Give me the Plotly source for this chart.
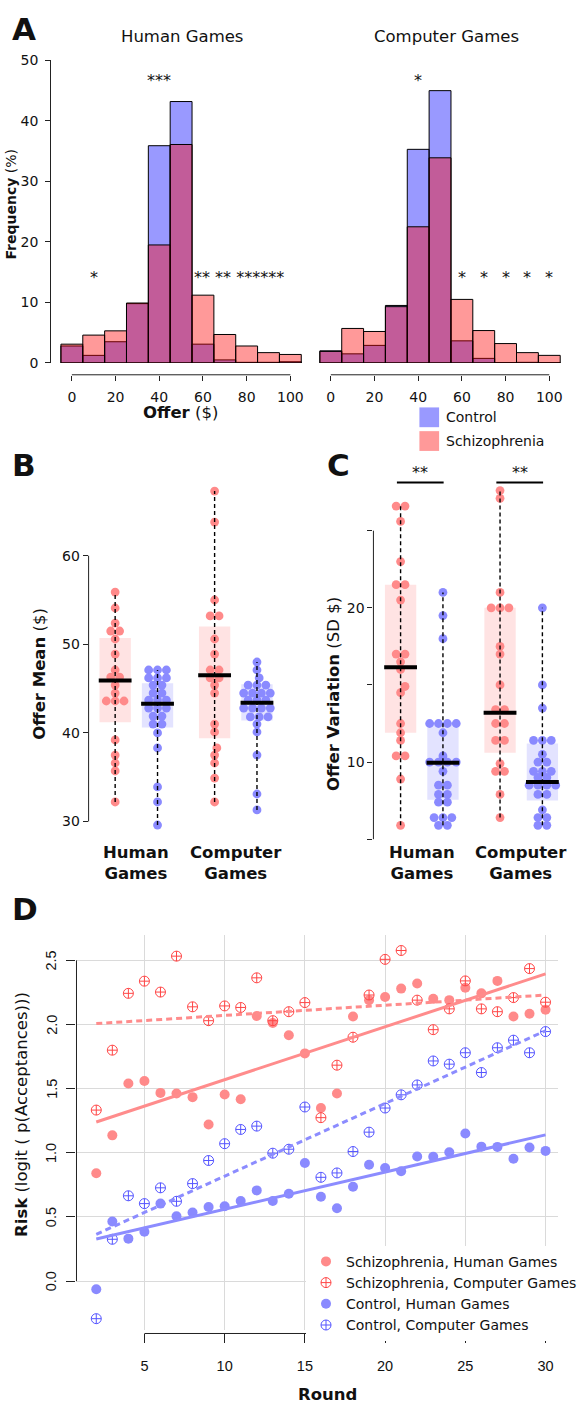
import numpy as np
import plotly.graph_objects as go

W, H = 582, 1411
def px(x): return x / W
def py(y): return 1 - y / H

# ---------------- Panel A: offer histograms (% of offers per $10 bin)
bins = [0, 10, 20, 30, 40, 50, 60, 70, 80, 90, 100]
hum_ctl_freq = [2.8, 1.25, 3.5, 9.8, 35.9, 43.2, 3.1, 0.5, 0.1, 0.1, 0.2]
hum_scz_freq = [3.1, 4.6, 5.3, 9.9, 19.5, 36.1, 11.2, 4.7, 2.8, 1.7, 1.4]
cmp_ctl_freq = [2.0, 1.5, 2.9, 9.5, 35.3, 45.0, 3.65, 0.75, 0.05, 0.1, 0.05]
cmp_scz_freq = [1.9, 5.7, 5.2, 9.3, 22.5, 33.9, 10.5, 5.35, 3.2, 1.7, 1.25]
sig_human = [(10, 14.2, "*"), (40, 46.7, "***"), (76.5, 14.2, "** ** ******")]
sig_computer = [(40, 46.7, "*"), (60, 14.2, "*"), (70, 14.2, "*"), (80, 14.2, "*"),
                (90, 14.2, "*"), (100, 14.2, "*")]

# ---------------- Panel B: offer mean ($)
b_hum_scz = [55.9, 54.1, 52.4, 51.5, 51.5, 50.6, 48.9, 47.1, 46.3, 46.3, 45.4, 44.5,
             43.6, 43.6, 43.6, 39.2, 37.5, 36.6, 35.7, 32.2]
b_hum_ctl = [47.1, 47.1, 47.1, 46.2, 46.2, 46.2, 45.4, 45.4, 44.5, 44.5, 43.7, 43.7, 43.7,
             42.8, 42.8, 42.8, 41.9, 41.9, 41.0, 41.0, 40.0, 38.3, 33.9, 32.2, 29.6]
b_cmp_scz = [67.3, 63.8, 55.0, 53.2, 53.2, 50.6, 48.9, 47.1, 47.1, 46.2, 46.2, 45.4,
             44.5, 41.0, 40.1, 38.3, 37.5, 36.6, 34.9, 32.2]
b_cmp_ctl = [48.0, 47.1, 46.2, 45.4, 45.4, 45.4, 44.5, 44.5, 44.5, 44.5, 43.7, 43.7, 43.7,
             42.8, 42.8, 42.8, 42.8, 41.8, 41.8, 41.8, 41.0, 40.1, 37.5, 33.1, 31.3]
b_q1 = [41.2, 40.6, 39.4, 41.4]
b_q3 = [50.7, 45.6, 52.0, 45.5]
b_med = [45.9, 43.3, 46.5, 43.4]

# ---------------- Panel C: offer variation (SD $)
c_hum_scz = [26.6, 26.6, 25.6, 23.0, 21.5, 21.5, 20.5, 17.0, 17.0, 16.5, 16.0, 14.9,
             14.5, 12.5, 11.9, 11.4, 10.4, 10.4, 8.9, 5.9]
c_hum_ctl = [21.0, 19.5, 18.0, 12.5, 12.5, 12.5, 12.5, 11.9, 10.4, 10.0, 10.0, 10.0, 10.0,
             9.4, 8.5, 8.5, 7.9, 7.9, 7.4, 7.4, 6.4, 6.4, 6.4, 5.9, 5.9]
c_cmp_scz = [27.6, 27.1, 21.0, 20.0, 20.0, 20.0, 17.5, 17.0, 15.0, 13.4, 13.4, 12.5,
             12.5, 11.4, 11.4, 9.9, 9.4, 9.4, 7.9, 6.4]
c_cmp_ctl = [20.0, 15.0, 13.5, 11.4, 11.4, 11.4, 10.5, 10.0, 10.0, 9.4, 9.4, 9.4, 9.0,
             9.0, 8.5, 8.5, 8.5, 8.5, 7.9, 7.9, 6.9, 6.4, 6.4, 5.9, 5.9]
c_q1 = [11.9, 7.55, 10.6, 7.5]
c_q3 = [21.5, 12.6, 20.0, 11.2]
c_med = [16.15, 9.95, 13.2, 8.7]
c_ticks = [5, 10, 15, 20, 25]
c_ticktext = ["", "10", "", "20", ""]

group_labels = ["<b>Human<br>Games</b>", "<b>Computer<br>Games</b>"]

# ---------------- Panel D: risk by round
rounds = list(range(2, 31))
d_scz_hum = [0.84, 1.136, 1.54, 1.56, 1.467, 1.462, 1.434, 1.22, 1.454, 1.418, 2.066,
             2.012, 1.917, 1.775, 1.349, 1.462, 2.063, 2.19, 2.215, 2.28, 2.32, 2.20,
             2.19, 2.287, 2.243, 2.34, 2.063, 2.084, 2.115]
d_scz_cmp = [1.333, 1.80, 2.243, 2.338, 2.253, 2.533, 2.138, 2.03, 2.145, 2.133, 2.364,
             2.03, 2.10, 2.171, 1.274, 1.683, 1.901, 2.23, 2.508, 2.577, 2.19, 1.96,
             2.122, 2.34, 2.122, 2.10, 2.21, 2.436, 2.174]
d_ctl_hum = [-0.064, 0.465, 0.331, 0.385, 0.604, 0.506, 0.534, 0.578, 0.583, 0.624,
             0.707, 0.624, 0.681, 0.92, 0.658, 0.568, 0.735, 0.907, 0.881, 0.856, 0.971,
             0.969, 1.005, 1.151, 1.048, 1.046, 0.953, 1.041, 1.015]
d_ctl_cmp = [-0.293, 0.326, 0.665, 0.604, 0.727, 0.622, 0.76, 0.94, 1.071, 1.182, 1.208,
             0.997, 1.028, 1.357, 0.809, 0.843, 1.01, 1.161, 1.349, 1.452, 1.529, 1.716,
             1.691, 1.78, 1.626, 1.819, 1.878, 1.78, 1.945]
d_yticks = [0.0, 0.5, 1.0, 1.5, 2.0, 2.5]

RED_PT = "rgb(255,138,138)"
BLUE_PT = "rgb(138,138,255)"
RED_BOX = "rgb(255,227,227)"
BLUE_BOX = "rgb(227,227,255)"
AXC = "#222222"
FONT = "DejaVu Sans"

fig = go.Figure()

# ---------------- A traces
for xa, ya, ctl, scz in [("x", "y", hum_ctl_freq, hum_scz_freq),
                         ("x2", "y2", cmp_ctl_freq, cmp_scz_freq)]:
    fig.add_trace(go.Bar(x=bins, y=ctl, width=10, xaxis=xa, yaxis=ya, showlegend=False,
                         marker=dict(color="rgba(0,0,255,0.4)", line=dict(color="black", width=1))))
    fig.add_trace(go.Bar(x=bins, y=scz, width=10, xaxis=xa, yaxis=ya, showlegend=False,
                         marker=dict(color="rgba(255,0,0,0.4)", line=dict(color="black", width=1))))


def swarm(values, ypu, d=9.0, gap=0.8):
    """Beeswarm offsets (pixels) for values; rows of equal values are centred."""
    vals = np.asarray(values, float)
    uniq = sorted(set(np.round(vals, 3)))
    placed = []
    offs = np.zeros(len(vals))
    shifts = sorted([k * d / 4 for k in range(-24, 25)], key=lambda s: (abs(s), -s))
    for u in uniq:
        idx = [i for i, v in enumerate(vals) if abs(v - u) < 1e-6]
        n = len(idx)
        yp = u * ypu
        base = [(i - (n - 1) / 2) * d for i in range(n)]
        for s in shifts:
            xs = [b + s for b in base]
            ok = all((x - qx) ** 2 + (yp - qy) ** 2 >= (gap * d) ** 2
                     for x in xs for (qx, qy) in placed)
            if ok:
                break
        for i, x in zip(idx, xs):
            offs[i] = x
            placed.append((x, yp))
    return offs


def dot_panel(xa, ya, series, q1, q3, med, ypu, ppu):
    cols = [(RED_PT, RED_BOX), (BLUE_PT, BLUE_BOX)] * 2
    centers = [-0.213, 0.213, 0.787, 1.213]
    for k in range(4):
        fig.add_trace(go.Bar(x=[centers[k]], y=[q3[k] - q1[k]], base=[q1[k]], width=0.315,
                             xaxis=xa, yaxis=ya, showlegend=False,
                             marker=dict(color=cols[k][1], line=dict(width=0))))
    for k in range(4):
        v = series[k]
        off = swarm(v, ypu) / ppu
        fig.add_trace(go.Scatter(x=centers[k] + off, y=v, mode="markers", xaxis=xa, yaxis=ya,
                                 showlegend=False, marker=dict(size=8.8, color=cols[k][0])))
    for k in range(4):
        v = series[k]
        fig.add_trace(go.Scatter(x=[centers[k], centers[k]], y=[min(v), max(v)], mode="lines",
                                 xaxis=xa, yaxis=ya, showlegend=False,
                                 line=dict(color="black", width=1.4, dash="4px,3px")))
        fig.add_trace(go.Scatter(x=[centers[k] - 0.165, centers[k] + 0.165], y=[med[k], med[k]],
                                 mode="lines", xaxis=xa, yaxis=ya, showlegend=False,
                                 line=dict(color="black", width=4)))

# B / C geometry
B_dom_x = (90, 290); B_rng_x = (-0.480, 1.500)
B_dom_y = (480, 835); B_rng_y = (60 + (554 - 835) / 8.96, 60 + (554 - 480) / 8.96)
C_dom_x = (379.3, 579.3); C_rng_x = (-0.486, 1.494)
C_dom_y = (455, 845); C_rng_y = (20 - (845 - 606.7) / 15.6, 20 + (606.7 - 455) / 15.6)
ppu = 200 / 1.98

dot_panel("x3", "y3", [b_hum_scz, b_hum_ctl, b_cmp_scz, b_cmp_ctl], b_q1, b_q3, b_med, 8.96, ppu)
dot_panel("x4", "y4", [c_hum_scz, c_hum_ctl, c_cmp_scz, c_cmp_ctl], c_q1, c_q3, c_med, 15.6, ppu)

# ---------------- D traces
series_d = [
    ("Schizophrenia, Human Games", d_scz_hum, "circle", dict(size=10, color=RED_PT), "rgb(255,140,140)", "solid"),
    ("Schizophrenia, Computer Games", d_scz_cmp, "circle-cross-open",
     dict(size=10, color="rgb(255,70,70)", line=dict(width=1)), "rgb(255,140,140)", "6px,4px"),
    ("Control, Human Games", d_ctl_hum, "circle", dict(size=10, color=BLUE_PT), "rgb(140,140,255)", "solid"),
    ("Control, Computer Games", d_ctl_cmp, "circle-cross-open",
     dict(size=10, color="rgb(85,85,255)", line=dict(width=1)), "rgb(140,140,255)", "6px,4px"),
]
for name, vals, sym, mk, lc, dash in series_d:
    m = dict(mk); m["symbol"] = sym
    fig.add_trace(go.Scatter(x=rounds, y=vals, mode="markers", name=name, marker=m,
                             xaxis="x5", yaxis="y5", showlegend=True))
for name, vals, sym, mk, lc, dash in series_d:
    slope, icpt = np.polyfit(rounds, vals, 1)
    xr = np.array([rounds[0], rounds[-1]], float)
    fig.add_trace(go.Scatter(x=xr, y=icpt + slope * xr, mode="lines", xaxis="x5", yaxis="y5",
                             showlegend=False, line=dict(color=lc, width=3, dash=dash)))

# ---------------- Layout / axes
tickfont = dict(family=FONT, size=14, color="#111")
dfont = dict(family="Liberation Sans", size=14.5, color="#111")
a_xrange = [-9.46, 106.8]
layout = dict(
    width=W, height=H, margin=dict(l=0, r=0, t=0, b=0),
    paper_bgcolor="white", plot_bgcolor="rgba(0,0,0,0)",
    font=dict(family=FONT, size=14, color="#111"),
    barmode="overlay", hovermode=False,
    xaxis=dict(domain=[px(52), px(310)], range=a_xrange, anchor="free", position=py(371),
               showline=False, ticks="outside", ticklen=5, tickcolor=AXC, ticklabelstandoff=4,
               tickvals=[0, 20, 40, 60, 80, 100], tickfont=tickfont, showgrid=False, zeroline=False),
    yaxis=dict(domain=[py(359), py(53)], range=[0, 50], anchor="x", showline=True, linecolor=AXC,
               linewidth=1, ticks="outside", ticklen=5, tickcolor=AXC, ticklabelstandoff=4,
               tickvals=[0, 10, 20, 30, 40, 50], tickfont=tickfont, showgrid=False, zeroline=False),
    xaxis2=dict(domain=[px(315), px(573)], range=a_xrange, anchor="free", position=py(371),
                showline=False, ticks="outside", ticklen=5, tickcolor=AXC, ticklabelstandoff=4,
                tickvals=[0, 20, 40, 60, 80, 100], tickfont=tickfont, showgrid=False, zeroline=False),
    yaxis2=dict(domain=[py(359), py(53)], range=[0, 50], anchor="x2", visible=False),
    xaxis3=dict(domain=[px(B_dom_x[0]), px(B_dom_x[1])], range=list(B_rng_x), anchor="y3", visible=False),
    yaxis3=dict(domain=[py(B_dom_y[1]), py(B_dom_y[0])], range=list(B_rng_y), anchor="x3",
                showline=False, ticks="outside", ticklen=5, tickcolor=AXC, tickvals=[30, 40, 50, 60],
                tickfont=tickfont, showgrid=False, zeroline=False),
    xaxis4=dict(domain=[px(C_dom_x[0]), px(C_dom_x[1])], range=list(C_rng_x), anchor="y4", visible=False),
    yaxis4=dict(domain=[py(C_dom_y[1]), py(C_dom_y[0])], range=list(C_rng_y), anchor="x4",
                showline=False, ticks="outside", ticklen=5, tickcolor=AXC, tickvals=c_ticks,
                ticktext=c_ticktext, tickfont=tickfont, showgrid=False, zeroline=False),
    xaxis5=dict(domain=[px(77.7), px(567)], range=[0.767, 30.79], anchor="free", position=py(1340.7),
                showline=False, ticks="outside", ticklen=9, tickcolor=AXC, ticklabelstandoff=10,
                tickvals=[5, 10, 15, 20, 25, 30], tickfont=dfont,
                showgrid=True, gridcolor="rgb(218,218,218)", gridwidth=1, zeroline=False),
    yaxis5=dict(domain=[py(1337), py(938)], range=[-0.380, 2.695], anchor="x5",
                showline=False, ticks="outside", ticklen=9, tickcolor=AXC,
                tickvals=d_yticks, showticklabels=False,
                showgrid=True, gridcolor="rgb(218,218,218)", gridwidth=1, zeroline=False),
    legend=dict(x=px(311), y=py(1252), xanchor="left", yanchor="top", bgcolor="white",
                font=dict(family=FONT, size=14, color="#111"), itemwidth=30, tracegroupgap=0),
)

shapes = [
    dict(type="line", xref="x", yref="paper", x0=0, x1=100, y0=py(371), y1=py(371),
         line=dict(color=AXC, width=1)),
    dict(type="line", xref="x2", yref="paper", x0=0, x1=100, y0=py(371), y1=py(371),
         line=dict(color=AXC, width=1)),
    dict(type="line", xref="paper", yref="y3", x0=px(90), x1=px(90), y0=30, y1=60,
         line=dict(color=AXC, width=1)),
    dict(type="line", xref="paper", yref="y4", x0=px(379.3), x1=px(379.3), y0=5, y1=25,
         line=dict(color=AXC, width=1)),
    dict(type="line", xref="x5", yref="paper", x0=5, x1=30, y0=py(1340.7), y1=py(1340.7),
         line=dict(color=AXC, width=1)),
    dict(type="line", xref="paper", yref="y5", x0=px(77.7), x1=px(77.7), y0=0, y1=2.5,
         line=dict(color=AXC, width=1)),
    # legend swatches, panel A
    dict(type="rect", xref="paper", yref="paper", x0=px(426), x1=px(446), y0=py(424), y1=py(404),
         fillcolor="rgb(153,153,255)", line=dict(width=0)),
    dict(type="rect", xref="paper", yref="paper", x0=px(426), x1=px(446), y0=py(448), y1=py(428),
         fillcolor="rgb(255,153,153)", line=dict(width=0)),
]
# significance bars panel C
for g in [0, 1]:
    shapes.append(dict(type="line", xref="x4", yref="y4", x0=g - 0.25, x1=g + 0.22,
                       y0=28.12, y1=28.12, line=dict(color="black", width=2)))

ann = []
def A(x, y, text, size=16.5, xref="paper", yref="paper", family=FONT, **kw):
    d = dict(x=x, y=y, text=text, showarrow=False, xref=xref, yref=yref,
             font=dict(family=family, size=size, color="#111"), xanchor="center", yanchor="middle")
    d.update(kw)
    ann.append(d)

for lab, (x, y) in zip("ABCD", [(24.5, 21), (24, 462), (344, 462), (25, 911)]):
    A(px(x), py(y), "<b>%s</b>" % lab, size=31)
A(px(185), py(29), "Human Games", size=16.5)
A(px(453.5), py(29), "Computer Games", size=16.5)
A(px(11), py(198), "<b>Frequency</b> (%)", size=14, textangle=-90)
A(px(183), py(409), "<b>Offer</b> ($)", size=16.5)
for x, y, t in sig_human:
    A(x, y, t, size=16, xref="x", yref="y")
for x, y, t in sig_computer:
    A(x, y, t, size=16, xref="x2", yref="y2")
A(px(451), py(414), "Control", size=14, xanchor="left")
A(px(451), py(438), "Schizophrenia", size=14, xanchor="left")
A(px(40), py(673), "<b>Offer Mean</b> ($)", size=16.5, textangle=-90)
A(px(338), py(694), "<b>Offer Variation</b> (SD $)", size=16.5, textangle=-90)
for g in [0, 1]:
    A(g, py(865), group_labels[g], size=16.5, xref="x3")
    A(g, py(865), group_labels[g], size=16.5, xref="x4")
    A(g - 0.015, 28.75, "**", size=16, xref="x4", yref="y4")
# D y tick labels (rotated, R style)
for v in d_yticks:
    A(px(52), v, "%.1f" % v, size=14.5, yref="y5", family="Liberation Sans", textangle=-90)
A(px(22), py(1119), "<b>Risk</b> (logit ( p(Acceptances)))", size=16.5, textangle=-90)
A(px(332.5), py(1402), "<b>Round</b>", size=16.5)

layout["shapes"] = shapes
layout["annotations"] = ann
fig.update_layout(**layout)

pin_page = (
    "document.documentElement.style.margin='0px';"
    "document.documentElement.style.overflow='hidden';"
    "document.body.style.margin='0px';document.body.style.padding='0px';"
    "document.body.style.overflow='hidden';"
    "var gd=document.getElementById('{plot_id}');"
    "gd.style.position='fixed';gd.style.top='0px';gd.style.left='0px';"
)
fig.write_html("out.html", config={"displayModeBar": False}, post_script=pin_page)
